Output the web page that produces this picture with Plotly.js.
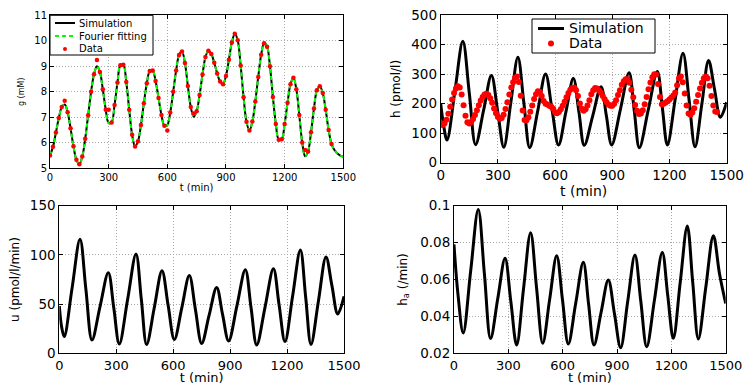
<!DOCTYPE html>
<html>
<head>
<meta charset="utf-8">
<script src="https://cdn.plot.ly/plotly-3.0.1.min.js"></script>
<style>
  body { margin: 0; background: #fff; }
  #chart { width: 750px; height: 385px; }
</style>
</head>
<body>
<div id="chart"></div>
<script>
var steps = function(start, stop, step) {
  var out = [];
  for (var t = start; t <= stop; t += step) out.push(t);
  return out;
};

var TICK_VALS = [0, 300, 600, 900, 1200, 1500];

// g (mM): simulation and data, every 15 min
var gTime = steps(0, 1500, 15);
var gSim = [
  5.50, 5.84, 6.40, 6.97, 7.40, 7.50, 7.20, 6.57, 5.86, 5.33,
  5.16, 5.46, 6.16, 7.08, 8.00, 8.69, 9.00, 8.78, 8.10, 7.30,
  6.77, 6.80, 7.48, 8.36, 9.04, 9.06, 8.38, 7.30, 6.31, 5.85,
  6.06, 6.70, 7.55, 8.33, 8.81, 8.83, 8.42, 7.76, 7.09, 6.67,
  6.70, 7.19, 8.00, 8.83, 9.44, 9.58, 9.13, 8.23, 7.40, 7.02,
  7.24, 7.87, 8.68, 9.36, 9.61, 9.48, 9.14, 8.72, 8.40, 8.30,
  8.62, 9.26, 9.93, 10.28, 10.02, 9.03, 7.79, 6.82, 6.48, 6.83,
  7.62, 8.58, 9.45, 9.90, 9.77, 9.00, 7.80, 6.74, 6.12, 6.14,
  6.74, 7.57, 8.30, 8.55, 8.10, 7.09, 6.01, 5.47, 5.66, 6.41,
  7.34, 8.06, 8.22, 7.95, 7.30, 6.50, 5.95, 5.72, 5.58, 5.50,
  5.45
];
var gDataTime = steps(0, 1440, 15);
var gData = [
  5.50, 5.84, 6.40, 6.97, 7.40, 7.65, 7.20, 6.57, 5.86, 5.33,
  5.16, 5.46, 6.16, 7.08, 8.00, 8.69, 9.25, 8.78, 8.10, 7.30,
  7.30, 6.80, 7.48, 8.36, 9.04, 9.06, 8.38, 7.30, 6.31, 5.85,
  6.06, 6.70, 7.55, 8.33, 8.81, 8.83, 8.42, 7.76, 7.09, 6.67,
  6.48, 7.19, 8.00, 8.83, 9.44, 9.58, 9.13, 8.23, 7.40, 7.15,
  7.24, 7.87, 8.68, 9.36, 9.61, 9.48, 9.14, 8.72, 8.40, 8.30,
  8.62, 9.26, 9.93, 10.28, 10.02, 9.03, 7.79, 6.82, 6.48, 6.83,
  7.62, 8.58, 9.45, 9.90, 9.77, 9.00, 7.80, 6.74, 6.12, 6.14,
  6.74, 7.57, 8.30, 8.55, 8.10, 7.09, 6.01, 5.72, 5.66, 6.41,
  7.34, 8.06, 8.22, 7.95, 7.30, 6.50, 5.95
];

// h (pmol/l)
var hSimTime = [0, 15, 33, 75, 116, 150, 183, 225, 266, 299, 331, 368, 405, 436, 467,
  509, 550, 584, 618, 657, 696, 725, 753, 797, 841, 869, 897, 943, 988, 1015,
  1042, 1089, 1136, 1163, 1189, 1230, 1271, 1303, 1334, 1370, 1405, 1436, 1467, 1500];
var hSim = [200, 128, 77, 245, 412, 236, 61, 178, 296, 174, 52, 205, 358, 204, 51,
  176, 301, 180, 60, 173, 286, 172, 59, 158, 258, 159, 60, 182, 305, 178,
  51, 180, 309, 184, 60, 215, 371, 212, 54, 200, 347, 250, 154, 205];
var hDataTime = steps(0, 1450, 10);
var hData = [
  135, 128, 133, 146, 166, 190, 214, 236, 252, 259,
  255, 231, 195, 159, 137, 133, 138, 148, 162, 178,
  195, 211, 223, 231, 234, 230, 219, 203, 184, 168,
  155, 149, 152, 163, 182, 205, 231, 255, 273, 288,
  292, 274, 227, 177, 145, 144, 154, 173, 194, 216,
  232, 242, 241, 226, 209, 200, 197, 193, 190, 183,
  171, 168, 172, 181, 193, 207, 222, 236, 247, 253,
  255, 246, 226, 201, 183, 176, 181, 194, 212, 232,
  246, 253, 252, 246, 237, 226, 215, 205, 197, 193,
  193, 200, 212, 230, 246, 264, 276, 283, 283, 271,
  247, 222, 196, 176, 165, 167, 178, 198, 223, 249,
  272, 290, 300, 299, 267, 223, 198, 200, 204, 208,
  214, 221, 228, 238, 263, 286, 292, 273, 235, 194,
  167, 163, 170, 185, 207, 230, 252, 271, 286, 292,
  286, 261, 226, 194, 174, 172
];

// u (pmol/l/min)
var uTime = [0, 12, 26, 67, 109, 140, 172, 215, 258, 287, 316, 360, 404, 432, 460,
  500, 541, 573, 606, 645, 685, 717, 750, 789, 829, 860, 892, 936, 980, 1010,
  1040, 1084, 1128, 1158, 1189, 1229, 1270, 1298, 1326, 1365, 1405, 1436, 1467, 1500];
var uSim = [48, 27, 17, 66, 116, 65, 13.5, 48, 82, 46, 9.5, 55, 101, 55, 9,
  46, 84, 49, 14, 46, 79, 44.5, 10, 38.5, 67, 39.5, 12.5, 48.5, 85, 46.5,
  8.5, 47, 86, 49, 12, 58, 105, 57, 9, 53, 98, 69, 40, 58];

// h_a (/min)
var haTime = [0, 22, 51, 92, 134, 168, 202, 242, 282, 314, 346, 384, 423, 456, 490,
  528, 567, 599, 631, 672, 714, 743, 773, 812, 852, 886, 920, 959, 999, 1031,
  1064, 1107, 1150, 1180, 1211, 1249, 1288, 1318, 1349, 1390, 1432, 1466, 1500];
var haSim = [0.079, 0.052, 0.031, 0.0645, 0.098, 0.063, 0.028, 0.0498, 0.0715, 0.048,
  0.0245, 0.055, 0.0854, 0.0554, 0.0254, 0.0491, 0.0729, 0.049, 0.025, 0.0471,
  0.0693, 0.0469, 0.0245, 0.0421, 0.0597, 0.0414, 0.023, 0.0481, 0.0733, 0.0485,
  0.0236, 0.0491, 0.0747, 0.0514, 0.0281, 0.0585, 0.089, 0.0584, 0.0278, 0.0557,
  0.0837, 0.063, 0.047];

var FONT = "DejaVu Sans, Arial, sans-serif";
var W = 750, H = 385;

// pixel -> paper helpers for the legend boxes
var px = function(v) { return v / W; };
var py = function(v) { return 1 - v / H; };

var axisStyle = function(domain, range, size, title, titleSize, standoff) {
  return {
    domain: domain,
    range: range,
    showline: true,
    mirror: "ticks",
    linecolor: "#000",
    linewidth: 1,
    ticks: "inside",
    ticklen: 4,
    tickcolor: "#000",
    showgrid: true,
    gridcolor: "#a8a8a8",
    griddash: "1px,2px",
    gridwidth: 1,
    zeroline: false,
    tickfont: { family: FONT, size: size, color: "#000" },
    title: { text: title, font: { family: FONT, size: titleSize, color: "#000" }, standoff: standoff }
  };
};

var traces = [
  { x: gTime, y: gSim, xaxis: "x", yaxis: "y", mode: "lines", name: "Simulation",
    line: { color: "#000", width: 2, shape: "spline" } },
  { x: gTime, y: gSim, xaxis: "x", yaxis: "y", mode: "lines", name: "Fourier fitting",
    line: { color: "#00ff00", width: 2, dash: "4px,3px", shape: "spline" } },
  { x: gDataTime, y: gData, xaxis: "x", yaxis: "y", mode: "markers", name: "Data",
    marker: { color: "#ff0000", size: 4.5 } },

  { x: hSimTime, y: hSim, xaxis: "x2", yaxis: "y2", mode: "lines", name: "Simulation",
    line: { color: "#000", width: 3, shape: "spline" } },
  { x: hDataTime, y: hData, xaxis: "x2", yaxis: "y2", mode: "markers", name: "Data",
    marker: { color: "#ff0000", size: 6 } },

  { x: uTime, y: uSim, xaxis: "x3", yaxis: "y3", mode: "lines", name: "u",
    line: { color: "#000", width: 3, shape: "spline" } },
  { x: haTime, y: haSim, xaxis: "x4", yaxis: "y4", mode: "lines", name: "h_a",
    line: { color: "#000", width: 3, shape: "spline" } }
];

// legend boxes drawn as shapes + text, sized like the original
var legendShapes = [
  { type: "rect", xref: "paper", yref: "paper", x0: px(50), x1: px(153), y0: py(55), y1: py(15.3),
    fillcolor: "#fff", line: { color: "#000", width: 1 } },
  { type: "line", xref: "paper", yref: "paper", x0: px(55), x1: px(75), y0: py(23), y1: py(23),
    line: { color: "#000", width: 2 } },
  { type: "line", xref: "paper", yref: "paper", x0: px(55), x1: px(75), y0: py(36), y1: py(36),
    line: { color: "#00ff00", width: 2, dash: "4px,3px" } },
  { type: "circle", xref: "paper", yref: "paper", x0: px(63), x1: px(67), y0: py(51), y1: py(47),
    fillcolor: "#ff0000", line: { color: "#ff0000", width: 0 } },

  { type: "rect", xref: "paper", yref: "paper", x0: px(532), x1: px(655), y0: py(53), y1: py(19),
    fillcolor: "#fff", line: { color: "#000", width: 1 } },
  { type: "line", xref: "paper", yref: "paper", x0: px(538), x1: px(564), y0: py(28.5), y1: py(28.5),
    line: { color: "#000", width: 3 } },
  { type: "circle", xref: "paper", yref: "paper", x0: px(548), x1: px(554), y0: py(46.5), y1: py(40.5),
    fillcolor: "#ff0000", line: { color: "#ff0000", width: 0 } }
];

var legendText = function(text, x, y, size) {
  return { text: text, xref: "paper", yref: "paper", x: px(x), y: py(y),
    xanchor: "left", yanchor: "middle", showarrow: false,
    font: { family: FONT, size: size, color: "#000" } };
};

var layout = {
  width: W,
  height: H,
  margin: { l: 0, r: 0, t: 0, b: 0 },
  paper_bgcolor: "#fff",
  plot_bgcolor: "#fff",
  font: { family: FONT, color: "#000" },
  showlegend: false,

  xaxis: Object.assign(axisStyle([0.0667, 0.4577], [0, 1500], 10, "t (min)", 10, 1),
    { anchor: "y", tickvals: TICK_VALS }),
  yaxis: Object.assign(axisStyle([0.5629, 0.9603], [5, 11], 10, "g (mM)", 8, 8),
    { anchor: "x", dtick: 1 }),

  xaxis2: Object.assign(axisStyle([0.5876, 0.9689], [0, 1500], 13.5, "t (min)", 14, 3),
    { anchor: "y2", tickvals: TICK_VALS }),
  yaxis2: Object.assign(axisStyle([0.5774, 0.9603], [0, 500], 13.5, "h (pmol/l)", 12, 8),
    { anchor: "x2", dtick: 100 }),

  xaxis3: Object.assign(axisStyle([0.0791, 0.4587], [0, 1500], 13, "t (min)", 13, 1),
    { anchor: "y3", tickvals: TICK_VALS }),
  yaxis3: Object.assign(axisStyle([0.0823, 0.4657], [0, 150], 13.5, "u (pmol/l/min)", 12, 7),
    { anchor: "x3", dtick: 50 }),

  xaxis4: Object.assign(axisStyle([0.6053, 0.9676], [0, 1500], 13, "t (min)", 13, 1),
    { anchor: "y4", tickvals: TICK_VALS }),
  yaxis4: Object.assign(axisStyle([0.0823, 0.4657], [0.02, 0.1], 13.5, "h<sub>a</sub> (/min)", 12, 10),
    { anchor: "x4", dtick: 0.02 }),

  shapes: legendShapes,
  annotations: [
    legendText("Simulation", 77, 23, 10),
    legendText("Fourier fitting", 77, 36, 10),
    legendText("Data", 77, 49, 10),
    legendText("Simulation", 567, 28.5, 14),
    legendText("Data", 567, 43.5, 14)
  ]
};

Plotly.newPlot("chart", traces, layout, { displayModeBar: false, staticPlot: true });
</script>
</body>
</html>
